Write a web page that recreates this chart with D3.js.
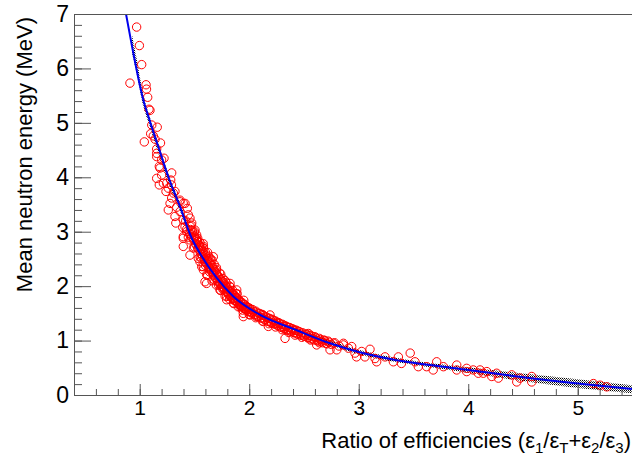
<!DOCTYPE html>
<html><head><meta charset="utf-8">
<script src="https://cdn.jsdelivr.net/npm/d3@7"></script>
<style>
html,body{margin:0;padding:0;background:#fff;}
svg{display:block;font-family:"Liberation Sans",Arial,Helvetica,sans-serif;}
</style></head>
<body>
<svg id="chart" width="632" height="459"></svg>
<script>
// ---- data ----
const xMajorTicks = [1, 2, 3, 4, 5];
const yMajorTicks = [0, 1, 2, 3, 4, 5, 6, 7];
const xTitle = "Ratio of efficiencies";
const yTitle = "Mean neutron energy (MeV)";

// fit curve (blue)
const fitX = [0.875, 0.936, 1.033, 1.088, 1.17, 1.261, 1.368, 1.475, 1.551, 1.703, 1.855, 2.1, 2.434, 2.738, 3.0, 3.347, 3.65, 4.0, 4.443, 5.0, 5.5];
const fitY = [7.0, 6.34, 5.42, 5.06, 4.56, 4.01, 3.46, 2.88, 2.6, 2.15, 1.81, 1.47, 1.19, 0.95, 0.79, 0.64, 0.55, 0.46, 0.34, 0.21, 0.11];

// dense black-marker band (x, low, high)
const bandX  = [0.93, 0.97, 1.03, 1.09, 1.17, 1.26, 1.37, 1.48, 1.55, 1.70, 1.85, 2.10, 2.43, 2.74, 3.00, 3.35, 3.65, 4.00, 4.44, 5.00, 5.50];
const bandLo = [6.28, 5.93, 5.33, 4.94, 4.44, 3.91, 3.37, 2.80, 2.54, 2.10, 1.76, 1.43, 1.15, 0.91, 0.75, 0.60, 0.51, 0.41, 0.27, 0.13, 0.03];
const bandHi = [6.62, 6.20, 5.55, 5.12, 4.62, 4.07, 3.52, 2.94, 2.66, 2.20, 1.86, 1.52, 1.23, 1.00, 0.83, 0.68, 0.59, 0.51, 0.41, 0.29, 0.18];

// red open circles: isolated / readable points
const redSparse = [
 [0.972,6.76],[0.997,6.42],[1.018,6.07],[0.911,5.73],[1.058,5.70],[1.062,5.62],[1.073,5.47],[1.085,5.25],[1.094,5.23],
 [1.11,4.96],[1.16,4.92],[1.10,4.80],[1.124,4.76],[1.042,4.65],[1.19,4.63],[1.14,4.70],[1.155,4.52],[1.155,4.44],[1.155,4.38],
 [1.222,4.35],[1.20,4.32],[1.179,4.20],[1.185,4.17],[1.20,4.04],[1.155,3.98],[1.179,3.86],[1.292,4.08],[1.283,3.95],[1.29,3.86],
 [1.261,3.80],[1.24,3.74],[1.307,3.71],[1.368,3.58],[1.216,3.89],[1.246,3.89],[1.322,3.74],[1.292,3.62],[1.277,3.52],[1.398,3.52],
 [1.368,3.55],[1.414,3.52],[1.338,3.45],[1.435,3.43],[1.261,3.40],[1.368,3.37],[1.322,3.28],[1.444,3.31],[1.459,3.25],[1.398,3.22],
 [1.33,3.16],[1.475,3.16],[1.393,3.08],[1.414,3.09],[1.429,3.00],[1.505,3.03],[1.398,2.91],[1.52,2.94],[1.444,2.90],[1.398,2.88],
 [1.459,2.85],[1.52,2.85],[1.581,2.73],[1.49,2.70],[1.398,2.73],[1.642,2.51],[1.535,2.51],[1.672,2.54],[1.459,2.57],[1.551,2.54],
 [1.566,2.36],[1.581,2.30],[1.612,2.21],[1.611,2.05],[1.596,2.08],[1.672,2.24],[1.733,1.93],[1.825,2.05],[1.794,1.81],[1.794,1.75],
 [1.855,1.69],[1.916,1.62],[1.916,1.65],[1.977,1.56],[2.007,1.47],[2.068,1.44],[1.946,1.44],[1.946,1.50],[2.19,1.47],[2.129,1.35],
 [2.251,1.32],[2.31,1.26],[2.175,1.26],[2.327,1.04],[2.54,1.13],[2.403,1.19],[2.738,0.83],[2.86,0.95],[2.936,0.89],[2.616,0.92],
 [1.886,1.93],[2.768,0.95],[2.86,0.92],[2.906,0.86],[2.80,0.83],[2.966,0.77],[3.027,0.80],[3.103,0.84],[3.057,0.70],[2.98,0.70],
 [3.149,0.67],[3.164,0.61],[3.24,0.70],[3.316,0.61],[3.362,0.70],[3.47,0.77],[3.39,0.58],[3.514,0.61],[3.544,0.52],[3.62,0.52],
 [3.712,0.61],[3.68,0.46],[3.773,0.52],[3.895,0.55],[3.895,0.46],[3.986,0.43],[4.046,0.46],[4.092,0.40],[3.986,0.49],[4.108,0.46],
 [4.138,0.40],[4.17,0.43],[4.215,0.34],[4.26,0.40],[4.275,0.31],[4.397,0.37],[4.443,0.24],[4.473,0.31],[4.58,0.34],[4.58,0.24],
 [5.143,0.21],[5.204,0.18],[5.265,0.15]
];
// red open circles: dense cluster along the curve
const redDense = [
 [1.42,3.20],[1.43,3.05],[1.46,3.10],[1.47,2.95],[1.48,3.02],[1.49,2.88],[1.50,2.92],[1.51,2.78],[1.52,2.86],[1.53,2.70],
 [1.54,2.76],[1.55,2.66],[1.56,2.72],[1.57,2.58],[1.58,2.64],[1.59,2.50],[1.60,2.56],[1.61,2.42],[1.62,2.50],[1.63,2.36],
 [1.64,2.44],[1.65,2.30],[1.66,2.38],[1.67,2.22],[1.68,2.30],[1.69,2.16],[1.70,2.24],[1.71,2.10],[1.72,2.18],[1.73,2.05],
 [1.74,2.12],[1.75,2.00],[1.76,2.08],[1.77,1.96],[1.78,2.02],[1.79,1.90],[1.80,1.97],[1.81,1.86],[1.82,1.92],[1.83,1.82],
 [1.84,1.88],[1.85,1.77],[1.86,1.84],[1.87,1.74],[1.88,1.80],[1.89,1.70],[1.90,1.76],[1.91,1.67],[1.92,1.72],[1.93,1.63],
 [1.94,1.69],[1.95,1.60],[1.96,1.66],[1.97,1.57],[1.98,1.62],[1.99,1.54],[2.00,1.60],[2.02,1.52],[2.03,1.57],[2.05,1.48],
 [2.06,1.54],[2.08,1.45],[2.09,1.50],[2.11,1.42],[2.12,1.48],[2.14,1.39],[2.15,1.44],[2.17,1.36],[2.18,1.41],[2.20,1.33],
 [2.21,1.39],[2.23,1.31],[2.24,1.36],[2.26,1.28],[2.27,1.33],[2.29,1.25],[2.30,1.30],[2.32,1.22],[2.33,1.27],[2.35,1.20],
 [2.36,1.24],[2.38,1.17],[2.39,1.22],[2.41,1.15],[2.42,1.19],[2.44,1.12],[2.45,1.17],[2.47,1.10],[2.48,1.14],[2.50,1.08],
 [2.52,1.12],[2.54,1.06],[2.56,1.10],[2.58,1.03],[2.60,1.07],[2.62,1.00],[2.64,1.04],[2.66,0.98],[2.68,1.01],[2.70,0.95],
 [2.72,0.99],[2.75,0.93],[2.78,0.96],[2.82,0.90],
 [1.50,2.72],[1.53,2.88],[1.56,2.52],[1.58,2.78],[1.60,2.38],[1.62,2.62],[1.64,2.26],[1.66,2.48],[1.68,2.12],[1.70,2.34],
 [1.72,2.02],[1.74,2.22],[1.76,1.94],[1.78,2.10],[1.80,1.88],[1.83,1.98],[1.86,1.74],[1.89,1.86],[1.92,1.64],[1.95,1.74]
];
const redDense2 = [
 [1.455,2.96],[1.465,3.04],[1.475,2.90],[1.485,2.98],[1.495,2.84],[1.505,2.90],[1.515,2.76],[1.525,2.82],[1.535,2.68],[1.545,2.74],
 [1.555,2.60],[1.565,2.68],[1.575,2.54],[1.585,2.60],[1.595,2.46],[1.605,2.52],[1.615,2.40],[1.625,2.46],[1.635,2.33],[1.645,2.40],
 [1.655,2.27],[1.665,2.34],[1.675,2.20],[1.685,2.27],[1.695,2.14],[1.705,2.21],[1.715,2.09],[1.725,2.15],[1.735,2.03],[1.745,2.09],
 [1.755,1.98],[1.765,2.04],[1.775,1.93],[1.785,1.99],[1.795,1.89],[1.805,1.94],[1.815,1.84],[1.825,1.90],[1.835,1.80],[1.845,1.86],
 [1.855,1.77],[1.865,1.82],[1.875,1.73],[1.885,1.78],[1.895,1.69],[1.905,1.74],[1.915,1.66],[1.925,1.70],[1.935,1.62],[1.945,1.67],
 [1.955,1.59],[1.965,1.63],[1.975,1.56],[1.985,1.60],[1.995,1.53],[2.01,1.57],[2.025,1.50],[2.04,1.54],[2.055,1.47],[2.07,1.51],
 [2.085,1.44],[2.10,1.49],[2.115,1.41],[2.13,1.46],[2.145,1.38],[2.16,1.43],[2.175,1.35],[2.19,1.40],[2.205,1.32],[2.22,1.37],
 [2.235,1.30],[2.25,1.34],[2.265,1.27],[2.28,1.31],[2.295,1.24],[2.31,1.29],[2.325,1.22],[2.34,1.26],[2.355,1.19],[2.37,1.24],
 [2.385,1.17],[2.40,1.21],[2.415,1.14],[2.43,1.19],[2.445,1.12],[2.46,1.16],[2.475,1.10],[2.49,1.14],[2.505,1.08],[2.52,1.11],
 [2.535,1.05],[2.55,1.09],[2.565,1.03],[2.58,1.07],[2.595,1.01],[2.61,1.05],[2.63,0.99],[2.65,1.02],[2.67,0.96],[2.69,1.00],
 [2.71,0.94],[2.73,0.97],
 [1.47,3.12],[1.50,3.00],[1.53,2.82],[1.55,2.80],[1.58,2.70],[1.60,2.62],[1.63,2.55],[1.65,2.48],[1.68,2.40],[1.70,2.30],
 [1.73,2.24],[1.76,2.14],[1.79,2.06],[1.82,2.00],[1.85,1.92],[1.88,1.86],
 [1.55,2.45],[1.58,2.36],[1.62,2.20],[1.66,2.10],[1.70,2.02],[1.74,1.92],[1.78,1.82],[1.82,1.76],[1.86,1.68],[1.90,1.62],
 [1.94,1.56],[2.00,1.48],[2.06,1.42],[2.12,1.36],[2.18,1.31],[2.24,1.25],[2.30,1.20],[2.36,1.15],[2.42,1.10],[2.48,1.06],
 [2.56,1.01],[2.64,0.96]
];

// ---- layout ----
const svg = d3.select("#chart");
const x = d3.scaleLinear().domain([0.4, 5.5]).range([74, 632.5]);
const y = d3.scaleLinear().domain([0, 7]).range([395, 14]);
const axisColor = "#555";

svg.append("defs").append("clipPath").attr("id", "plotclip")
  .append("rect").attr("x", 74).attr("y", 14).attr("width", 560).attr("height", 381);
const pat = svg.select("defs").append("pattern").attr("id", "dots")
  .attr("width", 2).attr("height", 2).attr("patternUnits", "userSpaceOnUse");
pat.append("rect").attr("x", 0).attr("y", 0).attr("width", 1).attr("height", 1).attr("fill", "#000");
pat.append("rect").attr("x", 1).attr("y", 1).attr("width", 1).attr("height", 1).attr("fill", "#555");

const plot = svg.append("g").attr("clip-path", "url(#plotclip)");

// band
const bandData = bandX.map((v, i) => ({x: v, lo: bandLo[i], hi: bandHi[i]}));
plot.append("path").datum(bandData)
  .attr("fill", "url(#dots)")
  .attr("d", d3.area().curve(d3.curveMonotoneX).x(d => x(d.x)).y0(d => y(d.lo)).y1(d => y(d.hi)));

// red circles
plot.append("g").selectAll("circle").data(redSparse.concat(redDense, redDense2)).join("circle")
  .attr("cx", d => x(d[0])).attr("cy", d => y(d[1])).attr("r", 4.2)
  .attr("fill", "none").attr("stroke", "#ff0000").attr("stroke-width", 1);

// fit line
const fitData = fitX.map((v, i) => [v, fitY[i]]);
plot.append("path").datum(fitData)
  .attr("fill", "none").attr("stroke", "#0000ee").attr("stroke-width", 2)
  .attr("d", d3.line().curve(d3.curveMonotoneX).x(d => x(d[0])).y(d => y(d[1])));

// ---- axes ----
const xMinor = d3.range(2, 28).map(i => i / 5);
const yMinor = d3.range(0, 36).map(i => i / 5);

const gxMinor = svg.append("g").attr("transform", "translate(0,395)")
  .call(d3.axisBottom(x).tickValues(xMinor).tickSize(-6).tickSizeOuter(0).tickFormat(""));
const gx = svg.append("g").attr("transform", "translate(0,395)")
  .call(d3.axisBottom(x).tickValues(xMajorTicks).tickSize(-11).tickSizeOuter(0).tickPadding(5).tickFormat(d3.format("d")));
const gyMinor = svg.append("g").attr("transform", "translate(74,0)")
  .call(d3.axisLeft(y).tickValues(yMinor).tickSize(-8).tickSizeOuter(0).tickFormat(""));
const gy = svg.append("g").attr("transform", "translate(74,0)")
  .call(d3.axisLeft(y).tickValues(yMajorTicks).tickSize(-17).tickSizeOuter(0).tickPadding(5).tickFormat(d3.format("d")));

[gxMinor, gx, gyMinor, gy].forEach(g => {
  g.selectAll("line").attr("stroke", axisColor);
  g.selectAll(".domain").attr("stroke", axisColor);
});
gx.selectAll("text").attr("font-size", 21).attr("fill", "#000").attr("font-family", "Liberation Sans, Arial, sans-serif");
gy.selectAll("text").attr("font-size", 23).attr("fill", "#000").attr("font-family", "Liberation Sans, Arial, sans-serif");

// top frame line
svg.append("line").attr("x1", 74).attr("x2", 632).attr("y1", 14.5).attr("y2", 14.5)
  .attr("stroke", axisColor).attr("stroke-width", 1);

// ---- titles ----
const xt = svg.append("text").attr("x", 631).attr("y", 448).attr("text-anchor", "end")
  .attr("font-size", 22).attr("fill", "#000");
xt.append("tspan").text(xTitle + " (ε");
xt.append("tspan").attr("font-size", 15).attr("dy", 5).text("1");
xt.append("tspan").attr("dy", -5).text("/ε");
xt.append("tspan").attr("font-size", 15).attr("dy", 5).text("T");
xt.append("tspan").attr("dy", -5).text("+ε");
xt.append("tspan").attr("font-size", 15).attr("dy", 5).text("2");
xt.append("tspan").attr("dy", -5).text("/ε");
xt.append("tspan").attr("font-size", 15).attr("dy", 5).text("3");
xt.append("tspan").attr("dy", -5).text(")");

svg.append("text").attr("transform", "translate(32,17) rotate(-90)")
  .attr("text-anchor", "end").attr("font-size", 22).attr("fill", "#000").text(yTitle);
</script>
</body></html>
